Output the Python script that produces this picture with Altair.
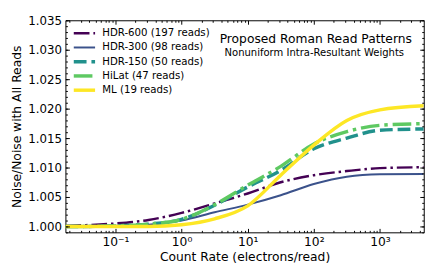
import altair as alt
import pandas as pd

# ---- data ----
count_rate = [0.0175, 0.0316, 0.1, 0.316, 1.0, 3.16, 10.0, 31.6, 100.0, 316.0, 1000.0, 4600.0]

series_names = ["HDR-600 (197 reads)", "HDR-300 (98 reads)", "HDR-150 (50 reads)",
                "HiLat (47 reads)", "ML (19 reads)"]

hdr600 = [1.0001, 1.0002, 1.0005, 1.0011, 1.0023, 1.0039, 1.0056, 1.0075, 1.0087, 1.0094, 1.0099, 1.01005]
hdr300 = [1.0000, 1.0000, 1.0001, 1.0003, 1.0010, 1.0024, 1.0037, 1.0053, 1.0072, 1.00845, 1.00885, 1.0089]
hdr150 = [1.0000, 1.0000, 1.0001, 1.0004, 1.0012, 1.0036, 1.0067, 1.0095, 1.0132, 1.0150, 1.01633, 1.01655]
hilat = [1.0000, 1.0000, 1.0001, 1.0004, 1.0012, 1.0037, 1.0070, 1.0102, 1.0140, 1.0161, 1.01717, 1.01745]
ml = [1.0000, 1.0000, 1.0000, 1.0000, 1.0003, 1.0013, 1.0035, 1.0087, 1.0138, 1.0180, 1.0198, 1.0205]

series_values = [hdr600, hdr300, hdr150, hilat, ml]

x_major = [0.1, 1, 10, 100, 1000]
x_major_labels = ["10⁻¹", "10⁰", "10¹", "10²", "10³"]
x_minor = [m * 10.0 ** k for k in range(-2, 4) for m in range(2, 10)
           if 0.0175 <= m * 10.0 ** k <= 4600]
y_major = [1.000, 1.005, 1.010, 1.015, 1.020, 1.025, 1.030, 1.035]
y_minor = [round(0.999 + 0.001 * i, 3) for i in range(37)]

title_text = "Proposed Roman Read Patterns"
subtitle_text = "Nonuniform Intra-Resultant Weights"

# ---- styles ----
colors = ["#440154", "#3b528b", "#21918c", "#5ec962", "#fde725"]
widths = [2.5, 2.0, 3.5, 3.5, 3.5]
dashes = [[16, 4, 2.5, 4], None, [13, 5], [19, 5, 3.5, 5], None]

FONT = "DejaVu Sans"
W, H = 365, 216

rows = []
for name, vals in zip(series_names, series_values):
    for x, y in zip(count_rate, vals):
        rows.append({"series": name, "rate": x, "ratio": y})
df = pd.DataFrame(rows)

xscale = alt.Scale(type="log", domain=[0.0175, 4600], nice=False)
yscale = alt.Scale(domain=[0.999, 1.035], nice=False, zero=False)

label_expr = " : ".join(
    [f"abs(datum.value - {v}) < {v}*0.01 ? '{l}'" for v, l in zip(x_major, x_major_labels)]
) + " : ''"

common_axis = dict(domain=False, grid=False, tickColor="black", tickWidth=1,
                   labelColor="black", labelFont=FONT, titleFont=FONT,
                   titleColor="black", titleFontWeight="normal", zindex=1)


def axis_layer(xaxis, yaxis):
    return alt.Chart(df).mark_point(opacity=0).encode(
        x=alt.X("rate:Q", scale=xscale, axis=xaxis),
        y=alt.Y("ratio:Q", scale=yscale, axis=yaxis),
    )


main_axes = axis_layer(
    alt.Axis(orient="bottom", values=x_major, labelExpr=label_expr, tickSize=4, offset=-4,
             labelPadding=3, labelFontSize=12.5, labelFlush=False,
             title="Count Rate (electrons/read)", titleFontSize=12.5, titlePadding=3,
             **common_axis),
    alt.Axis(orient="left", values=y_major, format=".3f", tickSize=4, offset=-4,
             labelPadding=4, labelFontSize=12,
             title="Noise/Noise with All Reads", titleFontSize=12.5, titlePadding=4,
             **common_axis),
)
minor_axes = axis_layer(
    alt.Axis(orient="bottom", values=x_minor, tickSize=2, offset=-2, labels=False, title=None,
             **common_axis),
    alt.Axis(orient="left", values=y_minor, tickSize=2, offset=-2, labels=False, title=None,
             **common_axis),
)
top_right_axes = axis_layer(
    alt.Axis(orient="top", values=x_major, tickSize=4, offset=-4, labels=False, title=None,
             **common_axis),
    alt.Axis(orient="right", values=y_major, tickSize=4, offset=-4, labels=False, title=None,
             **common_axis),
)
top_right_minor = axis_layer(
    alt.Axis(orient="top", values=x_minor, tickSize=2, offset=-2, labels=False, title=None,
             **common_axis),
    alt.Axis(orient="right", values=y_minor, tickSize=2, offset=-2, labels=False, title=None,
             **common_axis),
)

layers = [main_axes, minor_axes, top_right_axes, top_right_minor]

for name, c, w, d in zip(series_names, colors, widths, dashes):
    kw = dict(color=c, strokeWidth=w, interpolate="monotone", clip=True)
    if d:
        kw["strokeDash"] = d
    layers.append(
        alt.Chart(df[df.series == name]).mark_line(**kw).encode(
            x=alt.X("rate:Q", scale=xscale, axis=None),
            y=alt.Y("ratio:Q", scale=yscale, axis=None),
        )
    )

# legend (manual, matplotlib style)
for i, (name, c, w, d) in enumerate(zip(series_names, colors, widths, dashes)):
    yrow = 13.2 + 14.5 * i
    kw = dict(color=c, strokeWidth=w)
    if d:
        kw["strokeDash"] = d
    ld = pd.DataFrame({"label": [name]})
    layers.append(alt.Chart(ld).mark_rule(**kw).encode(
        x=alt.value(8.5), x2=alt.value(30.2), y=alt.value(yrow)))
    layers.append(alt.Chart(ld).mark_text(align="left", baseline="middle", font=FONT,
                                          fontSize=10.4, color="black").encode(
        text="label:N", x=alt.value(37.5), y=alt.value(yrow)))

tdf = pd.DataFrame({"t": [title_text]})
sdf = pd.DataFrame({"t": [subtitle_text]})
layers.append(alt.Chart(tdf).mark_text(align="center", baseline="alphabetic", font=FONT,
                                       fontSize=12.5, color="black").encode(
    text="t:N", x=alt.value(255), y=alt.value(23.5)))
layers.append(alt.Chart(sdf).mark_text(align="center", baseline="alphabetic", font=FONT,
                                       fontSize=10.2, color="black").encode(
    text="t:N", x=alt.value(253.5), y=alt.value(36.3)))

chart = alt.layer(*layers).resolve_axis(x="independent", y="independent").properties(
    width=W, height=H,
    autosize=alt.AutoSizeParams(type="none"),
    padding={"left": 58.5, "top": 10, "right": 13.5, "bottom": 44},
    background="white",
).configure_view(stroke="black", strokeWidth=1)

chart.save("out.html", embed_options={"renderer": "svg", "actions": False})
